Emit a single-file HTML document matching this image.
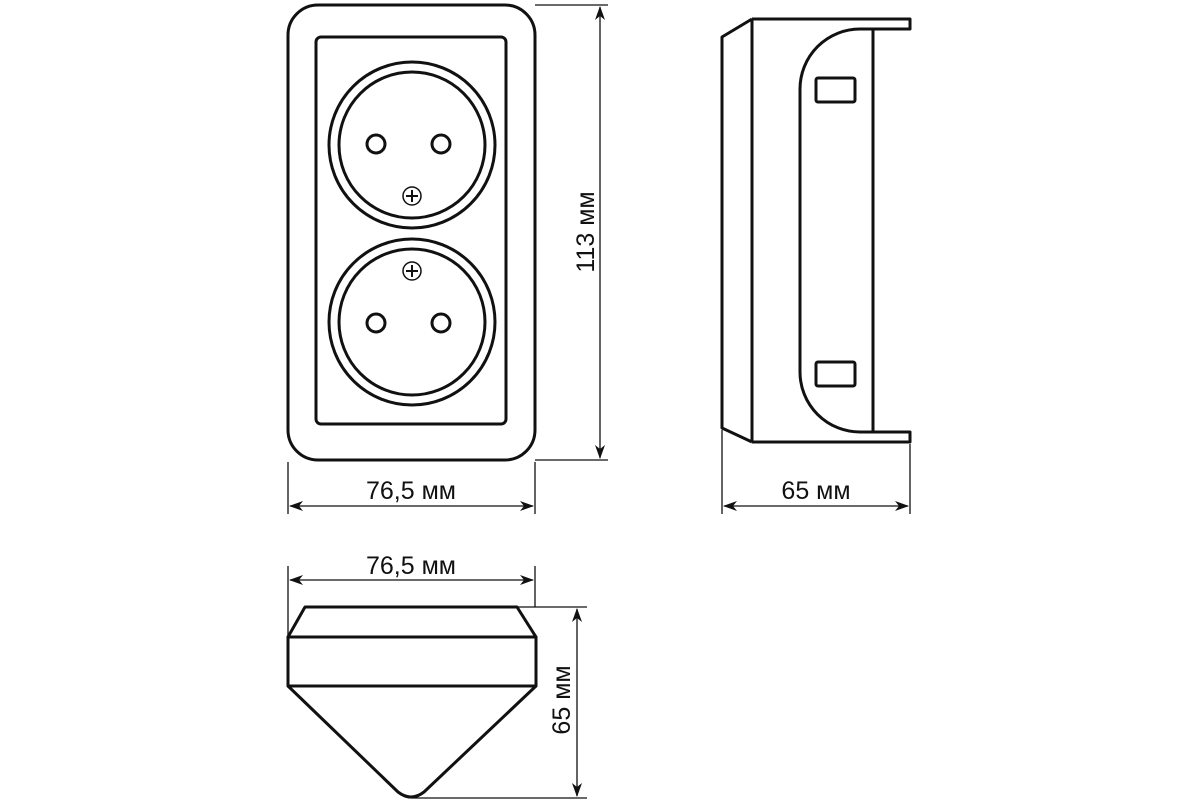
<!DOCTYPE html>
<html><head><meta charset="utf-8"><style>html,body{margin:0;padding:0;background:#fff}svg{display:block}text{font-family:"Liberation Sans",sans-serif;font-size:25px;fill:#111}</style></head>
<body>
<svg width="1200" height="800" viewBox="0 0 1200 800" xmlns="http://www.w3.org/2000/svg">
<defs>
<marker id="a" markerWidth="14" markerHeight="10" refX="13" refY="5" orient="auto-start-reverse" markerUnits="userSpaceOnUse"><path d="M0,0 L14,5 L0,10 L4,5 Z" fill="#111"/></marker>
</defs>
<g fill="none" stroke="#111" stroke-width="3">
<rect x="288" y="5" width="247" height="455" rx="30"/>
<rect x="316" y="37" width="190" height="387" rx="5"/>
<circle cx="412" cy="145" r="83"/><circle cx="412" cy="145" r="73"/>
<circle cx="376" cy="144" r="9"/><circle cx="441" cy="144" r="9"/>
<circle cx="412" cy="322" r="83"/><circle cx="412" cy="322" r="73"/>
<circle cx="376" cy="323" r="9"/><circle cx="441" cy="323" r="9"/>
</g>
<g fill="none" stroke="#111" stroke-width="1.5">
<circle cx="412" cy="196" r="9"/><path d="M406,196h12M412,190v12" stroke-width="2"/>
<circle cx="412" cy="271" r="9"/><path d="M406,271h12M412,265v12" stroke-width="2"/>
</g>
<g fill="none" stroke="#111" stroke-width="3" stroke-linejoin="round">
<path d="M752,19 L722,37 L722,428 L752,442"/>
<path d="M752,19 V442"/>
<path d="M752,19 H910 V29 H873 V432 H910 V442 H752"/>
<path d="M873,29 H860 A60,60 0 0 0 800,89 V372 A60,60 0 0 0 860,432 H873"/>
<rect x="816" y="78" width="39" height="24" rx="2"/>
<rect x="816" y="362" width="39" height="24" rx="2"/>
</g>
<g fill="none" stroke="#111" stroke-width="3" stroke-linejoin="round">
<path d="M305,607 H517 L536,637 H288 Z"/>
<rect x="288" y="637" width="248" height="49"/>
<path d="M288,686 L398,792 Q411,802 424,792 L536,686"/>
</g>
<g fill="none" stroke="#111" stroke-width="1.3">
<path d="M535,5 H608 M535,460 H608"/>
<path d="M600,7 V458" marker-start="url(#a)" marker-end="url(#a)"/>
<path d="M288,462 V514 M535,462 V514"/>
<path d="M290,506 H533" marker-start="url(#a)" marker-end="url(#a)"/>
<path d="M722,430 V514 M910,444 V514"/>
<path d="M724,506 H908" marker-start="url(#a)" marker-end="url(#a)"/>
<path d="M288,566 V640 M535,566 V607"/>
<path d="M290,580 H533" marker-start="url(#a)" marker-end="url(#a)"/>
<path d="M517,607 H587 M411,798 H587"/>
<path d="M577,609 V796" marker-start="url(#a)" marker-end="url(#a)"/>
</g>
<text x="411" y="499" text-anchor="middle">76,5 мм</text>
<text x="816" y="499" text-anchor="middle">65 мм</text>
<text x="411" y="574" text-anchor="middle">76,5 мм</text>
<text transform="translate(594,232) rotate(-90)" text-anchor="middle">113 мм</text>
<text transform="translate(570,700) rotate(-90)" text-anchor="middle">65 мм</text>
</svg>
</body></html>
